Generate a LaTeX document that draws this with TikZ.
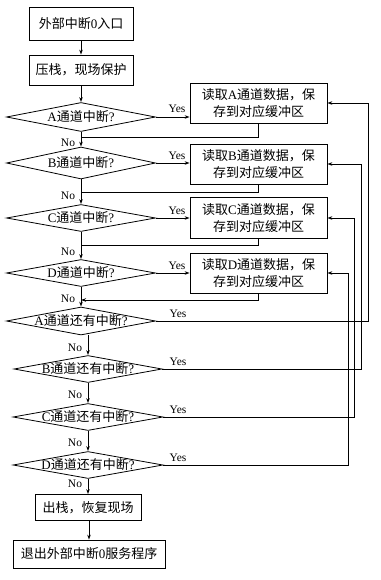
\documentclass[tikz,border=0pt]{standalone}
\usepackage{fontspec}
\setmainfont{Liberation Serif}
\newfontfamily\cjkfont{Noto Sans CJK SC}
\newcommand{\zh}[1]{{\cjkfont #1}}
\usetikzlibrary{shapes.geometric,arrows.meta}
\begin{document}
\begin{tikzpicture}[x=1pt,y=-1pt,
  line width=0.8pt,
  proc/.style={draw, rectangle, inner sep=0pt, font=\fontsize{13}{17.5}\selectfont, align=center},
  dec/.style={draw, diamond, inner sep=0pt, font=\fontsize{13}{16}\selectfont},
  lab/.style={font=\fontsize{11.5}{12}\selectfont, inner sep=0pt},
  arr/.style={-{Stealth[length=5pt,width=3.5pt]}},
]
\useasboundingbox (0,0) rectangle (380,580);

% main column
\node[proc, minimum width=104pt, minimum height=33pt] (n1) at (81,24) {\zh{外部中断}0\zh{入口}};
\node[proc, minimum width=104pt, minimum height=30pt] (n2) at (81,70) {\zh{压栈，现场保护}};

\node[dec, minimum width=149pt, minimum height=29pt] (dA) at (81,117) {\makebox[0pt]{A\zh{通道中断}?}};
\node[dec, minimum width=149pt, minimum height=32pt] (dB) at (81,163) {\makebox[0pt]{B\zh{通道中断}?}};
\node[dec, minimum width=149pt, minimum height=27pt] (dC) at (81,218) {\makebox[0pt]{C\zh{通道中断}?}};
\node[dec, minimum width=149pt, minimum height=27pt] (dD) at (81,273) {\makebox[0pt]{D\zh{通道中断}?}};
\node[dec, minimum width=149pt, minimum height=28pt] (dA2) at (81,321) {\makebox[0pt]{A\zh{通道还有中断}?}};
\node[dec, minimum width=148pt, minimum height=27pt] (dB2) at (88,369) {\makebox[0pt]{B\zh{通道还有中断}?}};
\node[dec, minimum width=150pt, minimum height=27pt] (dC2) at (88,417) {\makebox[0pt]{C\zh{通道还有中断}?}};
\node[dec, minimum width=150pt, minimum height=27pt] (dD2) at (88,465) {\makebox[0pt]{D\zh{通道还有中断}?}};

\node[proc, minimum width=106pt, minimum height=26pt] (n3) at (88,507.5) {\zh{出栈，恢复现场}};
\node[proc, minimum width=152pt, minimum height=28pt] (n4) at (89,554) {\zh{退出外部中断}0\zh{服务程序}};

% right boxes
\node[proc, minimum width=137pt, minimum height=40pt] (bA) at (258.5,103) {\zh{读取}A\zh{通道数据，保}\\\zh{存到对应缓冲区}};
\node[proc, minimum width=137pt, minimum height=40pt] (bB) at (258.5,164) {\zh{读取}B\zh{通道数据，保}\\\zh{存到对应缓冲区}};
\node[proc, minimum width=137pt, minimum height=41pt] (bC) at (258.5,218) {\zh{读取}C\zh{通道数据，保}\\\zh{存到对应缓冲区}};
\node[proc, minimum width=137pt, minimum height=40pt] (bD) at (258.5,273) {\zh{读取}D\zh{通道数据，保}\\\zh{存到对应缓冲区}};

% main flow
\draw[arr] (n1) -- (n2);
\draw[arr] (n2) -- (dA);
\draw[arr] (dA) -- (dB);
\draw[arr] (dB) -- (dC);
\draw[arr] (dC) -- (dD);
\draw[arr] (dD) -- (dA2);
\draw[arr] (dA2.south -| dB2.north) -- (dB2.north);
\draw[arr] (dB2) -- (dC2);
\draw[arr] (dC2) -- (dD2);
\draw[arr] (dD2) -- (n3);
\draw[arr] (n3.south -| n4.north) -- (n4);

% yes branches
\draw[arr] (dA.east) -- (dA.east -| bA.west);
\draw[arr] (dB.east) -- (dB.east -| bB.west);
\draw[arr] (dC.east) -- (dC.east -| bC.west);
\draw[arr] (dD.east) -- (dD.east -| bD.west);

% returns
\coordinate (rA) at (81,137);
\coordinate (rB) at (81,192);
\coordinate (rC) at (81,245);
\coordinate (rD) at (81,300);
\draw (bA.south) |- (rA);
\draw (bB.south) |- (rB);
\draw (bC.south) |- (rC);
\draw[arr] (bD.south) |- (rD);

% loops back
\coordinate (cA) at (368,0);
\coordinate (cB) at (361,0);
\coordinate (cC) at (354,0);
\coordinate (cD) at (348,0);
\draw[arr] (dA2.east) -- (dA2.east -| cA) -- (cA |- bA.east) -- (bA.east);
\draw[arr] (dB2.east) -- (dB2.east -| cB) -- (cB |- bB.east) -- (bB.east);
\draw[arr] (dC2.east) -- (dC2.east -| cC) -- (cC |- bC.east) -- (bC.east);
\draw[arr] (dD2.east) -- (dD2.east -| cD) -- (cD |- bD.east) -- (bD.east);

% labels
\node[lab] (yA) at (177,109) {Yes};
\node[lab] (yB) at (177,156) {Yes};
\node[lab] (yC) at (177,211) {Yes};
\node[lab] (yD) at (177,266) {Yes};
\node[lab] (yA2) at (178,314) {Yes};
\node[lab] (yB2) at (178,362) {Yes};
\node[lab] (yC2) at (178,410) {Yes};
\node[lab] (yD2) at (178,458) {Yes};

\node[lab] (nA) at (68,143) {No};
\node[lab] (nB) at (68,196) {No};
\node[lab] (nC) at (68,252) {No};
\node[lab] (nD) at (68,299) {No};
\node[lab] (nA2) at (75,348) {No};
\node[lab] (nB2) at (75,395) {No};
\node[lab] (nC2) at (75,443) {No};
\node[lab] (nD2) at (75,484) {No};
\end{tikzpicture}
\end{document}
